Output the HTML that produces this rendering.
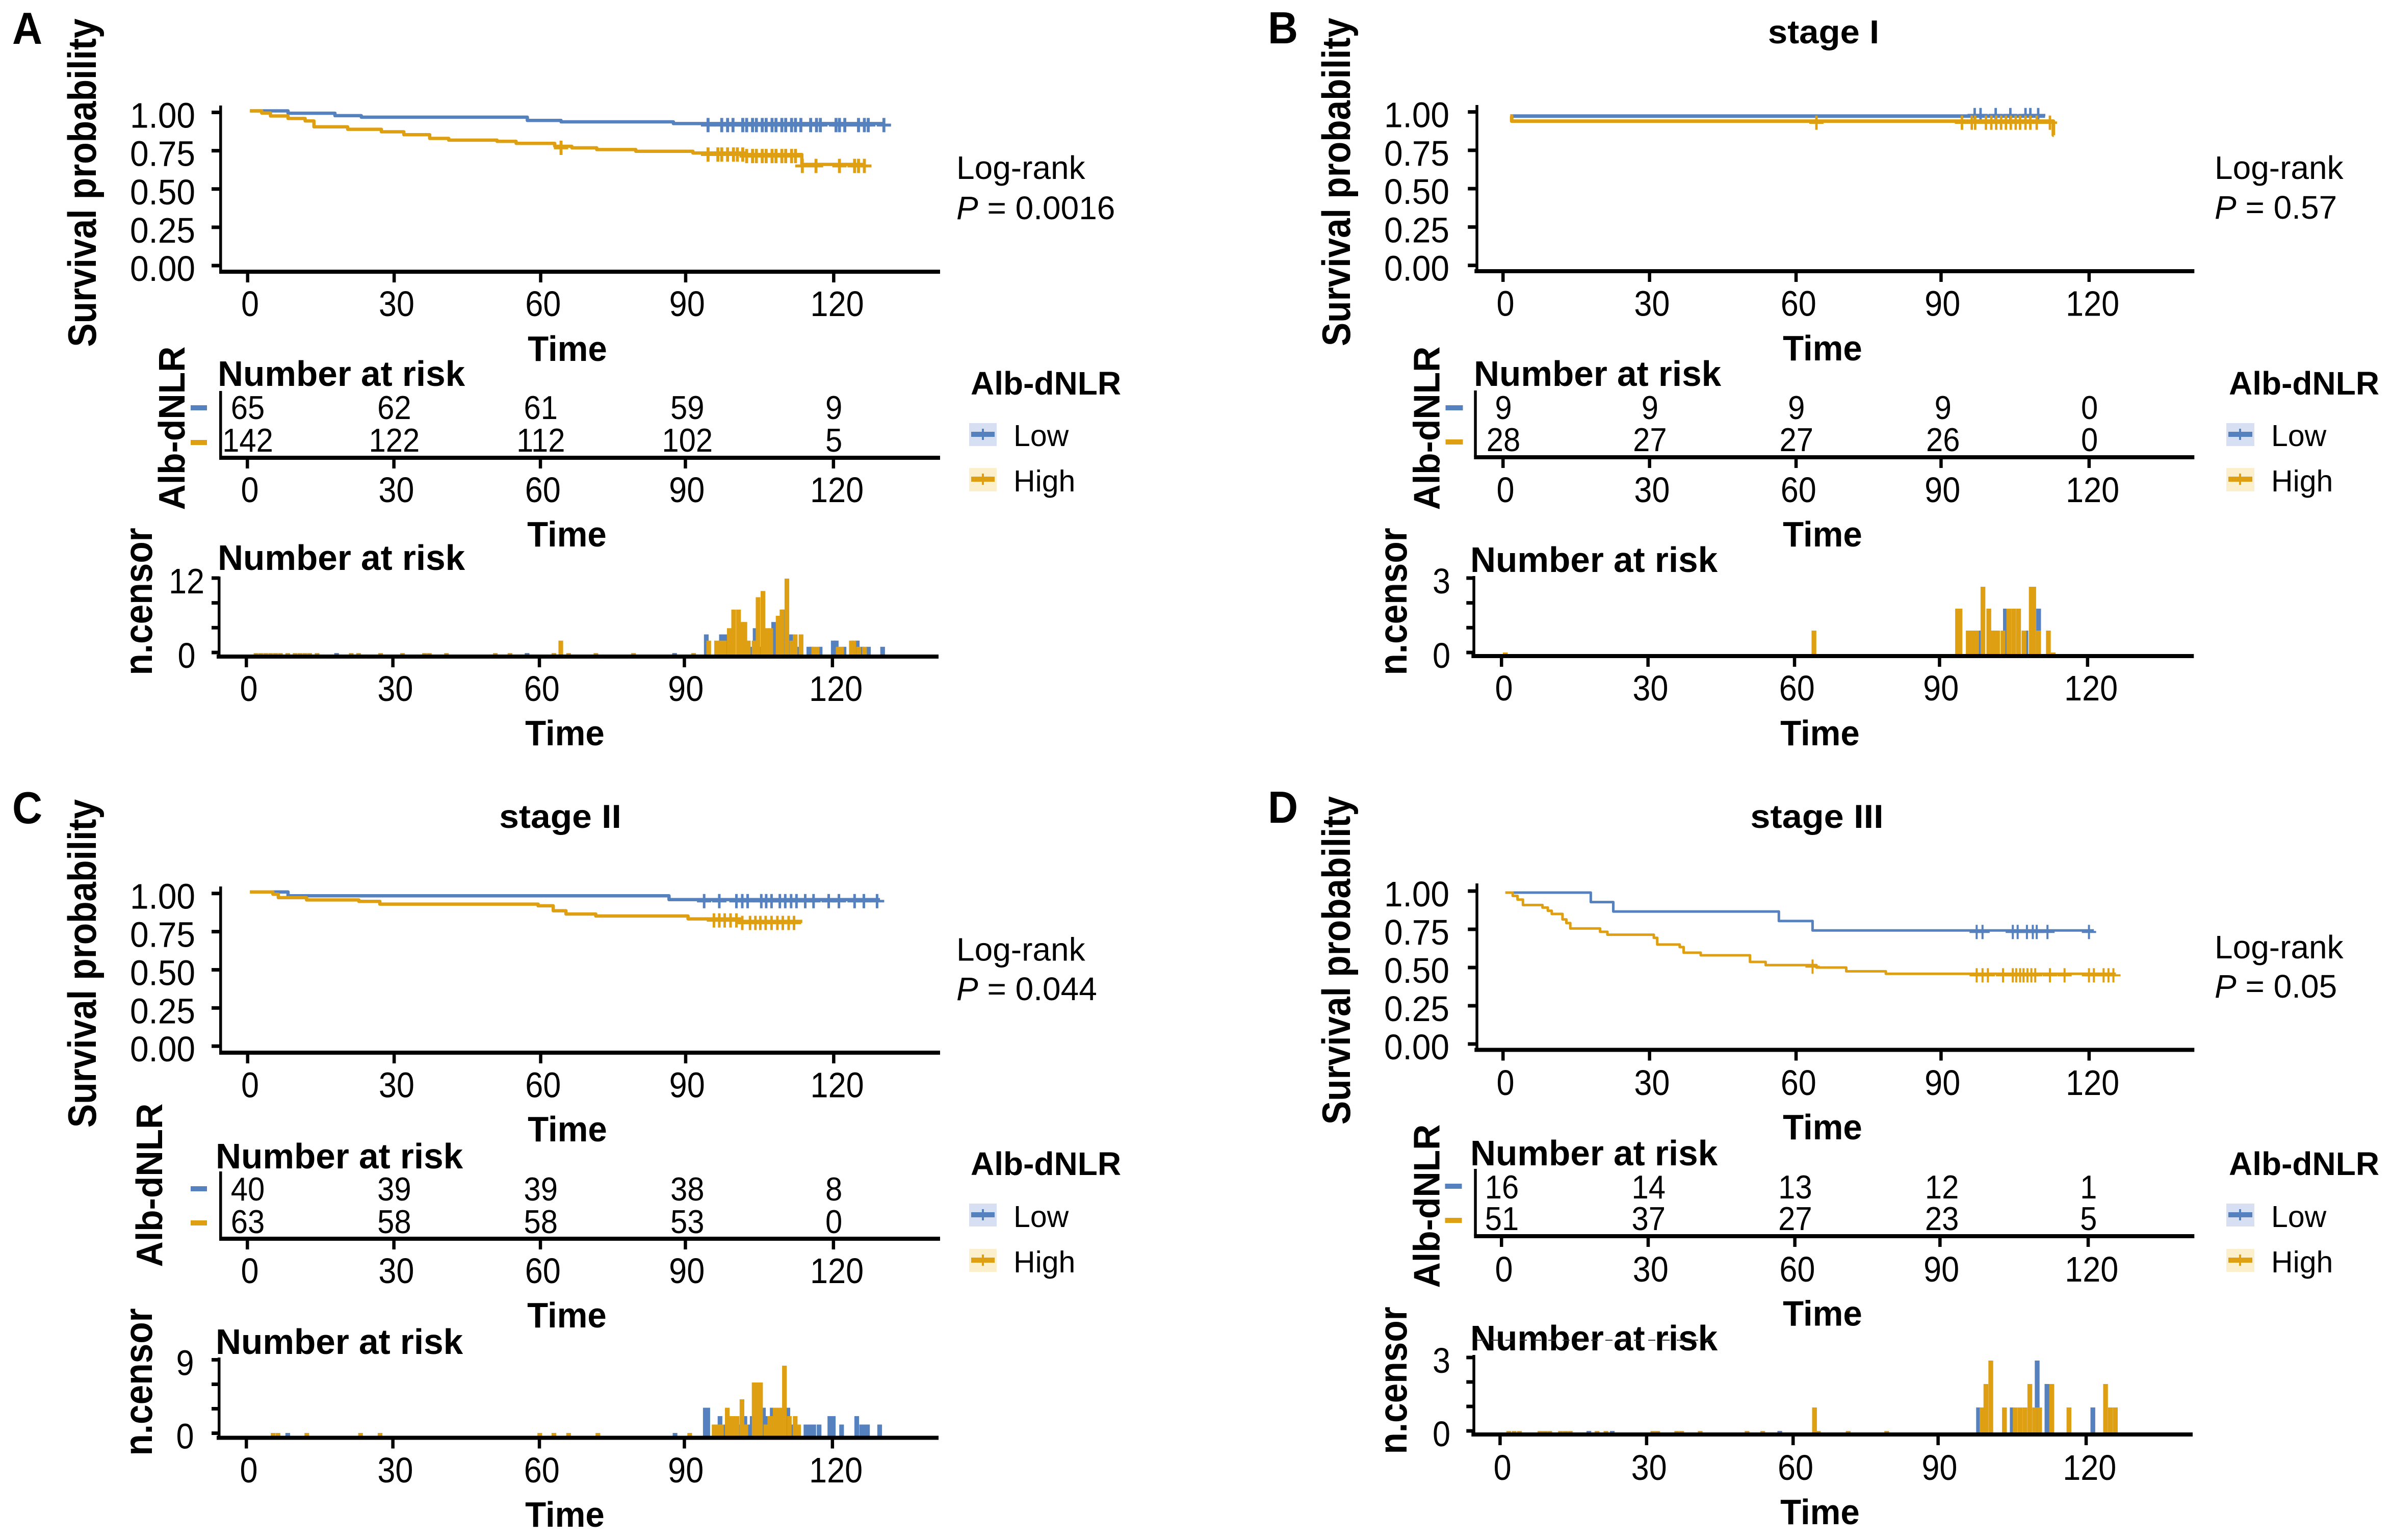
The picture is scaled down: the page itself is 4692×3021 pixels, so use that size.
<!DOCTYPE html>
<html lang="en">
<head>
<meta charset="utf-8">
<title>Kaplan-Meier survival curves by Alb-dNLR</title>
<style>
html,body{margin:0;padding:0;background:#fff}
svg{display:block}
text{font-family:"Liberation Sans",sans-serif;fill:#000}
.letter{font-size:88px;font-weight:700}
.stage{font-size:65px;font-weight:700}
.surv{font-size:78px;font-weight:700}
.alb{font-size:72px;font-weight:700}
.cens{font-size:78px;font-weight:700}
.time{font-size:70px;font-weight:700}
.nar{font-size:70px;font-weight:700}
.lr{font-size:64px}
.legt{font-size:64px;font-weight:700}
.legl{font-size:59px}
</style>
</head>
<body>
<svg id="figure" xmlns="http://www.w3.org/2000/svg" width="4692" height="3021" viewBox="0 0 4692 3021">
<rect x="0" y="0" width="4692" height="3021" fill="#fff"/>

<!-- Panel A static text -->
<g>
<text class="letter" transform="translate(24 86) scale(.93 1)">A</text>
<text class="surv" text-anchor="middle" transform="translate(188 358.5) rotate(-90) scale(.89 1)">Survival probability</text>
<text class="time" text-anchor="middle" transform="translate(1113 708) scale(.96 1)">Time</text>
<text class="alb" text-anchor="middle" transform="translate(362 840) rotate(-90) scale(.967 1)">Alb-dNLR</text>
<text class="nar" transform="translate(427 757) scale(.99 1)">Number at risk</text>
<text class="time" text-anchor="middle" transform="translate(1112 1072) scale(.96 1)">Time</text>
<text class="cens" text-anchor="middle" transform="translate(298 1180) rotate(-90) scale(.89 1)">n.censor</text>
<text class="nar" transform="translate(427 1118) scale(.99 1)">Number at risk</text>
<text class="time" text-anchor="middle" transform="translate(1108 1462) scale(.96 1)">Time</text>
<text class="lr" x="1876" y="351">Log-rank</text>
<text class="lr" x="1876" y="430"><tspan font-style="italic">P</tspan> = 0.0016</text>
<rect x="374" y="795" width="32" height="10" fill="#5581be"/>
<rect x="374" y="863" width="32" height="10" fill="#dea012"/>
<g>
<text class="legt" x="1904" y="774">Alb-dNLR</text>
<rect x="1901" y="830" width="54" height="45" fill="#d6e0f2"/>
<path d="M1905 852H1951" stroke="#5581be" stroke-width="10" fill="none"/>
<path d="M1928 841V863" stroke="#5581be" stroke-width="4" fill="none"/>
<text class="legl" x="1988" y="875">Low</text>
<rect x="1901" y="918" width="54" height="46" fill="#fcf0cc"/>
<path d="M1905 940H1951" stroke="#dea012" stroke-width="10" fill="none"/>
<path d="M1928 929V951" stroke="#dea012" stroke-width="4" fill="none"/>
<text class="legl" x="1988" y="964">High</text>
</g>
</g>

<!-- Panel B static text -->
<g>
<text class="letter" transform="translate(2487 85) scale(.93 1)">B</text>
<text class="stage" text-anchor="middle" transform="translate(3577 85) scale(1.06 1)">stage I</text>
<text class="surv" text-anchor="middle" transform="translate(2648 357) rotate(-90) scale(.89 1)">Survival probability</text>
<text class="time" text-anchor="middle" transform="translate(3575 707) scale(.96 1)">Time</text>
<text class="alb" text-anchor="middle" transform="translate(2823.5 840) rotate(-90) scale(.967 1)">Alb-dNLR</text>
<text class="nar" transform="translate(2891 757) scale(.99 1)">Number at risk</text>
<text class="time" text-anchor="middle" transform="translate(3575 1072) scale(.96 1)">Time</text>
<text class="cens" text-anchor="middle" transform="translate(2759 1180) rotate(-90) scale(.89 1)">n.censor</text>
<text class="nar" transform="translate(2884 1122) scale(.99 1)">Number at risk</text>
<text class="time" text-anchor="middle" transform="translate(3570 1462) scale(.96 1)">Time</text>
<text class="lr" x="4344" y="351">Log-rank</text>
<text class="lr" x="4344" y="429"><tspan font-style="italic">P</tspan> = 0.57</text>
<rect x="2835.5" y="795" width="34" height="10" fill="#5581be"/>
<rect x="2835.5" y="862" width="34" height="10" fill="#dea012"/>
<g>
<text class="legt" x="4372" y="774">Alb-dNLR</text>
<rect x="4367" y="830" width="55" height="45" fill="#d6e0f2"/>
<path d="M4371 852H4418" stroke="#5581be" stroke-width="10" fill="none"/>
<path d="M4394 841V863" stroke="#5581be" stroke-width="4" fill="none"/>
<text class="legl" x="4455" y="875">Low</text>
<rect x="4367" y="918" width="55" height="46" fill="#fcf0cc"/>
<path d="M4371 940H4418" stroke="#dea012" stroke-width="10" fill="none"/>
<path d="M4394 929V951" stroke="#dea012" stroke-width="4" fill="none"/>
<text class="legl" x="4455" y="964">High</text>
</g>
</g>

<!-- Panel C static text -->
<g>
<text class="letter" transform="translate(24 1615) scale(.93 1)">C</text>
<text class="stage" text-anchor="middle" transform="translate(1099 1624) scale(1.07 1)">stage II</text>
<text class="surv" text-anchor="middle" transform="translate(188 1890) rotate(-90) scale(.89 1)">Survival probability</text>
<text class="time" text-anchor="middle" transform="translate(1113 2239) scale(.96 1)">Time</text>
<text class="alb" text-anchor="middle" transform="translate(318 2325) rotate(-90) scale(.967 1)">Alb-dNLR</text>
<text class="nar" transform="translate(423 2292) scale(.99 1)">Number at risk</text>
<text class="time" text-anchor="middle" transform="translate(1112 2604) scale(.96 1)">Time</text>
<text class="cens" text-anchor="middle" transform="translate(298 2711) rotate(-90) scale(.89 1)">n.censor</text>
<text class="nar" transform="translate(423 2656) scale(.99 1)">Number at risk</text>
<text class="time" text-anchor="middle" transform="translate(1108 2995) scale(.96 1)">Time</text>
<text class="lr" x="1876" y="1884.5">Log-rank</text>
<text class="lr" x="1876" y="1962"><tspan font-style="italic">P</tspan> = 0.044</text>
<rect x="374" y="2327" width="32" height="10" fill="#5581be"/>
<rect x="374" y="2394" width="32" height="10" fill="#dea012"/>
<g>
<text class="legt" x="1904" y="2305">Alb-dNLR</text>
<rect x="1901" y="2361" width="54" height="45" fill="#d6e0f2"/>
<path d="M1905 2383H1951" stroke="#5581be" stroke-width="10" fill="none"/>
<path d="M1928 2372V2394" stroke="#5581be" stroke-width="4" fill="none"/>
<text class="legl" x="1988" y="2407">Low</text>
<rect x="1901" y="2450" width="54" height="45" fill="#fcf0cc"/>
<path d="M1905 2472H1951" stroke="#dea012" stroke-width="10" fill="none"/>
<path d="M1928 2461V2483" stroke="#dea012" stroke-width="4" fill="none"/>
<text class="legl" x="1988" y="2496">High</text>
</g>
</g>

<!-- Panel D static text -->
<g>
<text class="letter" transform="translate(2487 1614) scale(.93 1)">D</text>
<text class="stage" text-anchor="middle" transform="translate(3564 1624) scale(1.08 1)">stage III</text>
<text class="surv" text-anchor="middle" transform="translate(2648 1884) rotate(-90) scale(.89 1)">Survival probability</text>
<text class="time" text-anchor="middle" transform="translate(3575 2235) scale(.96 1)">Time</text>
<text class="alb" text-anchor="middle" transform="translate(2823.5 2366) rotate(-90) scale(.967 1)">Alb-dNLR</text>
<text class="nar" transform="translate(2884 2286) scale(.99 1)">Number at risk</text>
<text class="time" text-anchor="middle" transform="translate(3575 2600.5) scale(.96 1)">Time</text>
<text class="cens" text-anchor="middle" transform="translate(2759 2708) rotate(-90) scale(.89 1)">n.censor</text>
<text class="nar" transform="translate(2884 2649) scale(.99 1)">Number at risk</text>
<path d="M2897 2629H3365" stroke="#333" stroke-width="2" stroke-dasharray="14 14" fill="none"/>
<text class="time" text-anchor="middle" transform="translate(3570 2990) scale(.96 1)">Time</text>
<text class="lr" x="4344" y="1880">Log-rank</text>
<text class="lr" x="4344" y="1957"><tspan font-style="italic">P</tspan> = 0.05</text>
<rect x="2834.5" y="2322" width="33" height="10" fill="#5581be"/>
<rect x="2834.5" y="2389" width="33" height="10" fill="#dea012"/>
<g>
<text class="legt" x="4372" y="2305">Alb-dNLR</text>
<rect x="4367" y="2361" width="55" height="45" fill="#d6e0f2"/>
<path d="M4371 2383H4418" stroke="#5581be" stroke-width="10" fill="none"/>
<path d="M4394 2372V2394" stroke="#5581be" stroke-width="4" fill="none"/>
<text class="legl" x="4455" y="2407">Low</text>
<rect x="4367" y="2450" width="55" height="45" fill="#fcf0cc"/>
<path d="M4371 2472H4418" stroke="#dea012" stroke-width="10" fill="none"/>
<path d="M4394 2461V2483" stroke="#dea012" stroke-width="4" fill="none"/>
<text class="legl" x="4455" y="2496">High</text>
</g>
</g>
</svg>

<script>
/* ---------- shared tick data ---------- */
const timeTicks = [0, 30, 60, 90, 120];
const survTicks = [0, 0.25, 0.5, 0.75, 1];
const survTickLabels = ['0.00', '0.25', '0.50', '0.75', '1.00'];

/* ---------- panel A (all patients) ---------- */
const kmA_low_t = [0.5, 8.3, 17.9, 23.3, 57.3, 64.2, 87.2, 130.5];
const kmA_low_s = [1, 0.985, 0.969, 0.959, 0.938, 0.929, 0.918, 0.918];
const kmA_high_t = [0.5, 2.9, 4.7, 8.3, 11.8, 13.6, 20.5, 27.4, 32, 37.3, 41.2, 51.1, 55, 62.9, 66.4, 71.5, 79.5, 91.2, 101.9, 113.5, 126.6];
const kmA_high_s = [1, 0.986, 0.967, 0.951, 0.935, 0.897, 0.881, 0.865, 0.846, 0.822, 0.811, 0.803, 0.79, 0.771, 0.761, 0.75, 0.739, 0.728, 0.718, 0.654, 0.654];
const censA_low = [94.3, 97.1, 98.3, 99.4, 101.4, 102.2, 103.4, 104.2, 105.4, 106.2, 107.4, 108.2, 109.4, 110.2, 111.4, 112.2, 113.3, 115.3, 116.5, 117.3, 120.5, 121.2, 122.3, 125.1, 126.3, 127.1, 130.3];
const censA_high = [64.2, 94.3, 96.3, 97.1, 98.3, 99.5, 100.3, 101.4, 102.2, 103.4, 104.2, 105.4, 106.2, 107.4, 108.2, 109.4, 110.2, 111.4, 112.2, 113.6, 116.4, 121.2, 124.3, 125.1, 126.3];
const riskA_low = [65, 62, 61, 59, 9];
const riskA_high = [142, 122, 112, 102, 5];
const barA_low_t = [18.5, 57.5, 87.7, 94.2, 97.3, 98.1, 103.2, 104.2, 105, 108, 110, 111.2, 112, 113.1, 115.2, 115.8, 117.5, 120.2, 120.8, 122.4, 125.1, 126.1, 127.4, 130.3];
const barA_low_n = [0, 0, 0, 3, 3, 3, 1, 4, 1, 5, 7, 3, 3, 1, 1, 1, 1, 2, 2, 1, 2, 1, 1, 1];
const barA_high_t = [2, 3, 4, 5, 6, 7, 8.5, 10, 11, 12, 13, 14.5, 21.5, 23, 27.5, 32, 36.5, 37.5, 41, 51, 54, 63, 64.4, 66, 71.6, 79.3, 91.6, 94.7, 96.3, 97.1, 97.9, 98.9, 99.8, 100.8, 101.6, 102.1, 102.8, 104, 104.8, 105.8, 106.6, 107.4, 108.9, 109.7, 110.7, 111.7, 112.4, 113.6, 116.2, 116.9, 121.2, 121.9, 123.9, 124.4, 125.4, 126.6];
const barA_high_n = [0, 0, 0, 0, 0, 0, 0, 0, 0, 0, 0, 0, 0, 0, 0, 0, 0, 0, 0, 0, 0, 0, 2, 0, 0, 0, 0, 2, 2, 2, 2, 4, 7, 7, 5, 5, 2, 2, 9, 10, 4, 4, 6, 7, 12, 2, 3, 3, 1, 1, 1, 1, 2, 2, 1, 1];
const censTicksA = [0, 4, 8, 12];
const censTickLabelsA = ['0', '', '', '12'];

/* ---------- panel B (stage I) ---------- */
const kmB_low_t = [1.5, 111];
const kmB_low_s = [0.963, 0.963];
const kmB_high_t = [1.5, 1.8, 112.7, 112.8];
const kmB_high_s = [0.963, 0.931, 0.84, 0.84];
const censB_low = [96.6, 97.8, 100.9, 103.9, 107, 108, 109.6];
const censB_high = [64.2, 94, 96, 96.7, 98.9, 100, 101, 102, 103, 104, 105, 105.9, 107, 108, 109.3, 112];
const riskB_low = [9, 9, 9, 9, 0];
const riskB_high = [28, 27, 27, 26, 0];
const barB_low_t = [96.5, 97.7, 100.4, 103.2, 107.4, 110];
const barB_low_n = [1, 1, 1, 2, 1, 2];
const barB_high_t = [0.8, 64, 93.4, 93.9, 95.6, 96.4, 97.3, 98.6, 99.8, 100.7, 101.6, 102.7, 103.9, 104.9, 105.9, 107, 108.5, 109, 110, 112, 113];
const barB_high_n = [0, 1, 2, 2, 1, 1, 1, 3, 2, 1, 1, 1, 2, 2, 2, 1, 3, 3, 1, 1, 0];
const censTicksB = [0, 1, 2, 3];
const censTickLabelsB = ['0', '', '', '3'];

/* ---------- panel C (stage II) ---------- */
const kmC_low_t = [0.5, 8.3, 86.3, 129.5];
const kmC_low_s = [1, 0.975, 0.95, 0.95];
const kmC_high_t = [0.5, 5.2, 6.3, 12.1, 22.8, 27.1, 59.5, 62.6, 65.2, 71.3, 90.2, 100.9, 113.6];
const kmC_high_s = [1, 0.985, 0.963, 0.948, 0.939, 0.921, 0.91, 0.878, 0.857, 0.844, 0.825, 0.809, 0.809];
const censC_low = [93.5, 96.6, 100.1, 101.3, 102.4, 105.2, 106.2, 107.3, 109, 110.1, 111.3, 112.4, 114.2, 115.9, 119, 121.1, 124.3, 126.2, 128.9];
const censC_high = [95.5, 96.6, 97.7, 98.9, 100.1, 101.3, 102.9, 104, 105, 106.1, 107.3, 108.5, 109.6, 110.8, 111.9];
const riskC_low = [40, 39, 39, 38, 8];
const riskC_high = [63, 58, 58, 53, 0];
const barC_low_t = [8.5, 87.8, 94, 94.5, 97, 98, 101, 102.1, 102.9, 103.4, 103.6, 105.9, 106.5, 107.7, 110.9, 111.8, 114.6, 115.4, 116.2, 117.3, 119.5, 120.2, 121.9, 125, 126, 126.8, 127.2, 129.7];
const barC_low_n = [0, 0, 3, 3, 2, 1, 1, 2, 1, 1, 2, 3, 2, 3, 3, 1, 1, 1, 1, 1, 2, 2, 1, 2, 1, 1, 1, 1];
const barC_high_t = [5.5, 6.5, 12.4, 23.4, 27.4, 60.1, 63, 66, 72, 90.8, 95.8, 96.5, 97.3, 98.5, 99.3, 100, 100.5, 101.5, 102.3, 104, 104.8, 105.3, 106.4, 107.2, 107.5, 108.3, 109, 109.5, 110.2, 111.2, 112.4, 113.1];
const barC_high_n = [0, 0, 0, 0, 0, 0, 0, 0, 0, 0, 1, 1, 1, 3, 2, 2, 2, 4, 1, 6, 6, 6, 1, 2, 2, 3, 3, 3, 8, 2, 2, 1];
const censTicksC = [0, 3, 6, 9];
const censTickLabelsC = ['0', '', '', '9'];

/* ---------- panel D (stage III) ---------- */
const kmD_low_t = [0.5, 18, 22.6, 56.5, 63.4, 121];
const kmD_low_s = [1, 0.9375, 0.875, 0.8125, 0.75, 0.75];
const kmD_high_t = [0.5, 2, 3, 4.1, 8.1, 9.2, 10, 12.2, 13, 13.8, 19.9, 21.4, 30.9, 31.6, 36.2, 37, 40.5, 50.6, 53.8, 64.2, 70.3, 78.4, 125.5];
const kmD_high_s = [1, 0.978, 0.954, 0.918, 0.901, 0.88, 0.859, 0.823, 0.799, 0.763, 0.741, 0.722, 0.701, 0.657, 0.64, 0.603, 0.586, 0.542, 0.521, 0.505, 0.48, 0.464, 0.464];
const censD_low = [97, 98.2, 104.4, 105.4, 107.3, 108.5, 109.3, 111.5, 120];
const censD_high = [63.4, 97, 98.2, 99.3, 102.4, 104.4, 105.1, 105.9, 106.6, 107.4, 108.2, 109, 112, 115, 120, 121, 123, 124, 125];
const riskD_low = [16, 14, 13, 12, 1];
const riskD_high = [51, 37, 27, 23, 5];
const barD_low_t = [18.2, 23, 57.3, 98, 104.9, 110, 112, 121.4];
const barD_low_n = [0, 0, 0, 1, 1, 3, 2, 1];
const barD_high_t = [1.8, 2.9, 4, 8.2, 9.2, 10.2, 12.4, 13.4, 14.4, 19.9, 21.7, 31.3, 32.3, 36.2, 37.2, 41, 50.6, 53.8, 64.4, 65.2, 71.3, 79.2, 98.7, 99.5, 100.5, 103.3, 105.5, 106.5, 107.5, 108.5, 109.5, 110.5, 113, 116.5, 124, 125, 126];
const barD_high_n = [0, 0, 0, 0, 0, 0, 0, 0, 0, 0, 0, 0, 0, 0, 0, 0, 0, 0, 1, 0, 0, 0, 1, 2, 3, 1, 1, 1, 1, 2, 1, 1, 2, 1, 2, 1, 1];
const censTicksD = [0, 1, 2, 3];
const censTickLabelsD = ['0', '', '', '3'];

/* ---------- colours ---------- */
const lowColor = '#5581be';
const highColor = '#dea012';

/* ---------- geometry (layout only) ---------- */
const panels = [
  { id: 'a',
    km: { axisX: 433, top: 207, xStart: 430, xEnd: 1844, xAxisY: 533, t0: 485.5, k: 9.58, y0: 521, y1: 217.5, tickTop: 220.5, labelBase: 620, yLabelX: 383, line: 6.5, mark: 5.8, dyLow: 3, dyHigh: 3 },
    risk: { axisX: 433, top: 767, xStart: 430, xEnd: 1844, xAxisY: 898, t0: 485, k: 9.58, labelBase: 985, rowLow: 822, rowHigh: 886 },
    cens: { axisX: 430, top: 1131, xStart: 425, xEnd: 1841, xAxisY: 1288, t0: 483, k: 9.58, labelBase: 1375, tick0: 1280, tickMax: 1134, barY0: 1281, barUnit: 12.17, barW: 9.2, labelCx: 366 },
    kmLow: [kmA_low_t, kmA_low_s], kmHigh: [kmA_high_t, kmA_high_s], censLow: censA_low, censHigh: censA_high,
    riskLow: riskA_low, riskHigh: riskA_high,
    barLow: [barA_low_t, barA_low_n], barHigh: [barA_high_t, barA_high_n],
    censTicks: censTicksA, censLabels: censTickLabelsA },
  { id: 'b',
    km: { axisX: 2897.3, top: 206, xStart: 2892.3, xEnd: 4304.3, xAxisY: 532, t0: 2948, k: 9.58, y0: 520.6, y1: 216.6, tickTop: 219.6, labelBase: 619.5, yLabelX: 2843, line: 7, mark: 4.8, dyLow: -2, dyHigh: 3 },
    risk: { axisX: 2894.3, top: 766, xStart: 2891.3, xEnd: 4304.3, xAxisY: 897, t0: 2948, k: 9.58, labelBase: 985, rowLow: 822, rowHigh: 885 },
    cens: { axisX: 2891.3, top: 1130, xStart: 2886.3, xEnd: 4303.3, xAxisY: 1287, t0: 2945, k: 9.58, labelBase: 1374, tick0: 1280, tickMax: 1134, barY0: 1280, barUnit: 43, barW: 9.4, labelCx: 2827.5 },
    kmLow: [kmB_low_t, kmB_low_s], kmHigh: [kmB_high_t, kmB_high_s], censLow: censB_low, censHigh: censB_high,
    riskLow: riskB_low, riskHigh: riskB_high,
    barLow: [barB_low_t, barB_low_n], barHigh: [barB_high_t, barB_high_n],
    censTicks: censTicksB, censLabels: censTickLabelsB },
  { id: 'c',
    km: { axisX: 433, top: 1739, xStart: 430, xEnd: 1844, xAxisY: 2065, t0: 485.5, k: 9.58, y0: 2052.2, y1: 1749.7, tickTop: 1752.7, labelBase: 2152.6, yLabelX: 383, line: 6.5, mark: 5, dyLow: 3, dyHigh: 3 },
    risk: { axisX: 433, top: 2298, xStart: 430, xEnd: 1844, xAxisY: 2430, t0: 485, k: 9.58, labelBase: 2517, rowLow: 2355, rowHigh: 2419 },
    cens: { axisX: 430, top: 2663, xStart: 425, xEnd: 1841, xAxisY: 2820.5, t0: 483, k: 9.58, labelBase: 2908, tick0: 2811.5, tickMax: 2667.5, barY0: 2811, barUnit: 16.5, barW: 9.2, labelCx: 363 },
    kmLow: [kmC_low_t, kmC_low_s], kmHigh: [kmC_high_t, kmC_high_s], censLow: censC_low, censHigh: censC_high,
    riskLow: riskC_low, riskHigh: riskC_high,
    barLow: [barC_low_t, barC_low_n], barHigh: [barC_high_t, barC_high_n],
    censTicks: censTicksC, censLabels: censTickLabelsC },
  { id: 'd',
    km: { axisX: 2897.3, top: 1733, xStart: 2892.3, xEnd: 4304.3, xAxisY: 2059.5, t0: 2948, k: 9.58, y0: 2048, y1: 1751, tickTop: 1748, labelBase: 2148, yLabelX: 2843, line: 5, mark: 4, dyLow: 3, dyHigh: 3 },
    risk: { axisX: 2894.3, top: 2293, xStart: 2891.3, xEnd: 4304.3, xAxisY: 2425, t0: 2945, k: 9.59, labelBase: 2514, rowLow: 2351, rowHigh: 2413 },
    cens: { axisX: 2891.3, top: 2658, xStart: 2886.3, xEnd: 4301, xAxisY: 2814, t0: 2942.2, k: 9.58, labelBase: 2903, tick0: 2807, tickMax: 2663, barY0: 2807, barUnit: 46, barW: 9.4, labelCx: 2827.5 },
    kmLow: [kmD_low_t, kmD_low_s], kmHigh: [kmD_high_t, kmD_high_s], censLow: censD_low, censHigh: censD_high,
    riskLow: riskD_low, riskHigh: riskD_high,
    barLow: [barD_low_t, barD_low_n], barHigh: [barD_high_t, barD_high_n],
    censTicks: censTicksD, censLabels: censTickLabelsD }
];

/* ---------- helpers ---------- */
const NS = 'http://www.w3.org/2000/svg';
const root = document.getElementById('figure');

function mk(tag, attrs, parent) {
  const el = document.createElementNS(NS, tag);
  for (const key in attrs) el.setAttribute(key, attrs[key]);
  parent.appendChild(el);
  return el;
}

function label(parent, x, y, str, size, sx, anchor) {
  const el = mk('text', { 'font-size': size, 'text-anchor': anchor, transform: 'translate(' + x + ' ' + y + ') scale(' + sx + ' 1)' }, parent);
  el.textContent = str;
  return el;
}

function drawXAxis(parent, a, id, part) {
  const xOf = t => a.t0 + a.k * t;
  let el = mk('rect', { x: a.xStart, y: a.xAxisY - 4, width: a.xEnd - a.xStart, height: 8, fill: '#000' }, parent);
  
  
  el = mk('rect', { x: a.axisX - 3, y: a.top, width: 5.5, height: a.xAxisY - a.top, fill: '#000' }, parent);
  
  
  timeTicks.forEach(t => {
    const tx = xOf(t) - (t === 90 ? 3 : 0);
    const shift = t === 120 ? 7 : (t === 90 ? 3 : 5);
    let m = mk('rect', { x: tx - 3, y: a.xAxisY, width: 6.5, height: 21, fill: '#000' }, parent);
    
    
    m = label(parent, tx + shift, a.labelBase, String(t), 70, 0.9, 'middle');
    
    
  });
}

function drawKM(parent, a, series, cens, color, dy, group) {
  const xOf = t => a.t0 + a.k * t;
  const yOf = s => a.y0 - (a.y0 - a.y1) * s;
  const ts = series[0], ss = series[1];
  let d = 'M' + xOf(ts[0]).toFixed(1) + ' ' + yOf(ss[0]).toFixed(1);
  for (let i = 1; i < ts.length; i++) {
    d += 'H' + xOf(ts[i]).toFixed(1) + 'V' + yOf(ss[i]).toFixed(1);
  }
  const line = mk('path', { d: d, fill: 'none', stroke: color, 'stroke-width': a.line, 'stroke-linejoin': 'round' }, parent);
  
  
  const survAt = t => {
    let s = ss[0];
    for (let i = 0; i < ts.length; i++) { if (ts[i] <= t) s = ss[i]; }
    return s;
  };
  cens.forEach(t => {
    const x = xOf(t), y = yOf(survAt(t)) + dy;
    const mark = mk('path', {
      d: 'M' + (x - 14).toFixed(1) + ' ' + y.toFixed(1) + 'H' + (x + 14).toFixed(1) + 'M' + x.toFixed(1) + ' ' + (y - 14).toFixed(1) + 'V' + (y + 14).toFixed(1),
      fill: 'none', stroke: color, 'stroke-width': a.mark
    }, parent);
    
    
  });
}

function drawBars(parent, a, series, color, group) {
  const xOf = t => a.t0 + a.k * t;
  const yOf = n => a.barY0 - a.barUnit * n;
  series[0].forEach((t, i) => {
    const top = yOf(series[1][i]);
    const bar = mk('rect', { x: (xOf(t) - a.barW / 2).toFixed(1), y: top.toFixed(1), width: a.barW, height: (a.xAxisY - top).toFixed(1), fill: color }, parent);
    
    
  });
}

/* ---------- draw every panel ---------- */
panels.forEach(p => {
  const g = mk('g', {}, root);
  
  

  /* survival plot */
  const km = p.km;
  drawKM(g, km, p.kmLow, p.censLow, lowColor, km.dyLow, 'low');
  drawKM(g, km, p.kmHigh, p.censHigh, highColor, km.dyHigh, 'high');
  drawXAxis(g, km, p.id, 'km');
  survTicks.forEach((v, i) => {
    const y = km.y0 - (km.y0 - km.tickTop) * v;
    let el = mk('rect', { x: km.axisX - 18, y: y - 3.5, width: 18, height: 7, fill: '#000' }, g);
    
    
    el = label(g, km.yLabelX, y + 30, survTickLabels[i], 70, 0.94, 'end');
    
    
  });

  /* risk table */
  const rk = p.risk;
  drawXAxis(g, rk, p.id, 'risk');
  timeTicks.forEach((t, i) => {
    const x = rk.t0 + rk.k * t + 1;
    let el = label(g, x, rk.rowLow, String(p.riskLow[i]), 65, 0.92, 'middle');
    
    
    el = label(g, x, rk.rowHigh, String(p.riskHigh[i]), 65, 0.92, 'middle');
    
    
  });

  /* censor histogram */
  const cs = p.cens;
  drawBars(g, cs, p.barLow, lowColor, 'low');
  drawBars(g, cs, p.barHigh, highColor, 'high');
  drawXAxis(g, cs, p.id, 'censor');
  const maxTick = p.censTicks[p.censTicks.length - 1];
  p.censTicks.forEach((v, i) => {
    const y = cs.tick0 - (cs.tick0 - cs.tickMax) * v / maxTick;
    let el = mk('rect', { x: cs.axisX - 15, y: y - 3.5, width: 15, height: 7, fill: '#000' }, g);
    
    
    if (p.censLabels[i]) {
      el = label(g, cs.labelCx, y + 30, p.censLabels[i], 70, 0.9, 'middle');
      
      
    }
  });
});
</script>
</body>
</html>
